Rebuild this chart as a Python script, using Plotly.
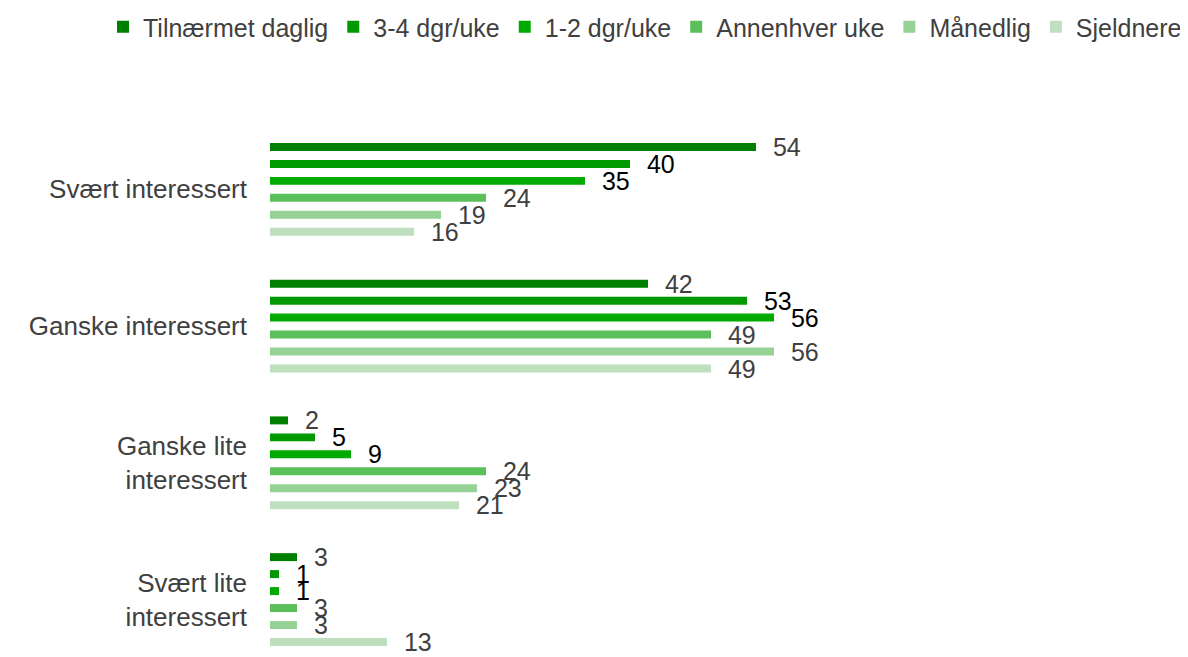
import plotly.graph_objects as go

categories = ["Svært interessert", "Ganske interessert", "Ganske lite<br>interessert", "Svært lite<br>interessert"]
series_names = ["Tilnærmet daglig", "3-4 dgr/uke", "1-2 dgr/uke", "Annenhver uke", "Månedlig", "Sjeldnere"]
values = {
    "Tilnærmet daglig": [54, 42, 2, 3],
    "3-4 dgr/uke": [40, 53, 5, 1],
    "1-2 dgr/uke": [35, 56, 9, 1],
    "Annenhver uke": [24, 49, 24, 3],
    "Månedlig": [19, 56, 23, 3],
    "Sjeldnere": [16, 49, 21, 13],
}
colors = ["#008000", "#009900", "#00AA00", "#5BBF5B", "#96D296", "#BFE0BF"]
label_colors = ["#404040", "#000000", "#000000", "#404040", "#404040", "#404040"]

FONT = "Liberation Sans, Arial, sans-serif"

fig = go.Figure()
for name, col, lc in zip(series_names, colors, label_colors):
    fig.add_trace(go.Bar(
        y=categories, x=values[name], name=name, orientation="h",
        marker=dict(color=col, line=dict(width=0)),
        text=values[name], texttemplate="  %{x}", textposition="outside",
        constraintext="none", cliponaxis=False,
        textfont=dict(family=FONT, size=25, color=lc),
        hoverinfo="x+name",
    ))

# page body adds an 8px offset, so the figure is sized/margined to compensate
fig.update_layout(
    width=1180, height=649,
    barmode="group", bargap=0.255, bargroupgap=0.53,
    margin=dict(l=262, r=18, t=113, b=0, autoexpand=False),
    paper_bgcolor="white", plot_bgcolor="white",
    font=dict(family=FONT, size=26, color="#404040"),
    showlegend=True,
    legend=dict(orientation="h", xref="paper", x=(95 - 262) / 900, xanchor="left",
                yref="paper", y=1 + (113 - 19) / 536, yanchor="middle",
                traceorder="normal", font=dict(size=25, color="#404040"),
                itemwidth=30, tracegroupgap=0, borderwidth=0,
                bgcolor="rgba(0,0,0,0)"),
    xaxis=dict(range=[0, 100], showgrid=False, zeroline=False, showticklabels=False,
               showline=False, ticks="", automargin=False),
    yaxis=dict(range=[3.42, -0.5], showgrid=False, zeroline=False, showline=False,
               ticks="", ticklabelstandoff=22, automargin=False,
               tickfont=dict(size=26, color="#404040")),
)
fig.write_html("out.html")
